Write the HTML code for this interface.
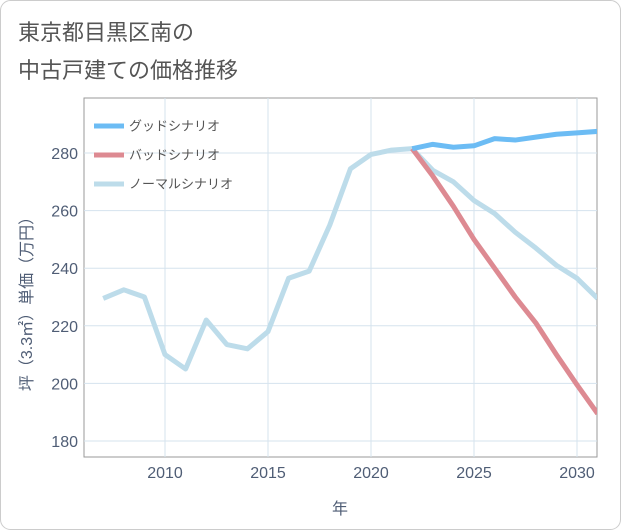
<!DOCTYPE html>
<html><head><meta charset="utf-8"><style>
body{margin:0;background:#fff;}
svg{display:block;font-family:"Liberation Sans","Noto Sans CJK JP",sans-serif;}
</style></head><body>
<svg width="621" height="530">
<rect x="0.5" y="0.5" width="620" height="529" rx="10" fill="#fff" stroke="#ccc"/>
<text x="18" y="40" font-size="22" fill="#555">東京都目黒区南の</text>
<text x="18" y="78" font-size="22" fill="#555">中古戸建ての価格推移</text>
<g id="plot"></g>
</svg>
<script>
const years=[2007,2008,2009,2010,2011,2012,2013,2014,2015,2016,2017,2018,2019,2020,2021,2022,2023,2024,2025,2026,2027,2028,2029,2030,2031];
const normal=[229.5,232.5,230,210,205,222,213.5,212,218,236.5,239,255,274.5,279.5,281,281.5,274,270,263.5,259,252.5,247,241,236.5,229.5];
const goodYears=[2022,2023,2024,2025,2026,2027,2028,2029,2030,2031];
const good=[281.5,283,282,282.5,285,284.5,285.5,286.5,287,287.5];
const badYears=[2022,2023,2024,2025,2026,2027,2028,2029,2030,2031];
const bad=[281.5,272,261.5,250,240,230,221,210,199.5,189.5];
const xTicks=[2010,2015,2020,2025,2030];
const yTicks=[180,200,220,240,260,280];
const L=84,R=597,T=98,B=457;
const xs=y=>165+(y-2010)*20.6;
const ys=v=>441-(v-180)*2.88;
const g=document.getElementById('plot');
const NS='http://www.w3.org/2000/svg';
const TC='#4f5d75';
function mk(t,a){const e=document.createElementNS(NS,t);for(const k in a)e.setAttribute(k,a[k]);g.appendChild(e);return e;}
const bg=mk('rect',{x:L,y:T,width:R-L,height:B-T,fill:'#fff',stroke:'#999'});


xTicks.forEach(t=>{const l=mk('line',{x1:xs(t),x2:xs(t),y1:T,y2:B,stroke:'#d5e3ee'});


const tx=mk('text',{x:xs(t),y:478,'font-size':16,fill:TC,'text-anchor':'middle'});tx.textContent=t;

});
yTicks.forEach(t=>{const l=mk('line',{x1:L,x2:R,y1:ys(t),y2:ys(t),stroke:'#d5e3ee'});


const tx=mk('text',{x:78,y:ys(t)+6,'font-size':16,fill:TC,'text-anchor':'end'});tx.textContent=t;

});
const xt=mk('text',{x:340,y:514,'font-size':16,fill:TC,'text-anchor':'middle'});xt.textContent='年';


const yt=mk('text',{x:0,y:0,'font-size':16,fill:TC,'text-anchor':'middle',transform:'translate(32,300) rotate(-90)'});yt.textContent='坪（3.3㎡）単価（万円）';


const cp=mk('clipPath',{id:'cp'});const cr=document.createElementNS(NS,'rect');cr.setAttribute('x',L);cr.setAttribute('y',T);cr.setAttribute('width',R-L);cr.setAttribute('height',B-T);cp.appendChild(cr);
function line(xv,yv,c,name){const p=mk('polyline',{points:xv.map((x,i)=>xs(x)+','+ys(yv[i])).join(' '),fill:'none',stroke:c,'stroke-width':5,'stroke-linejoin':'round','clip-path':'url(#cp)'});

}
line(years,normal,'#bddcea','normal-scenario-line');
line(badYears,bad,'#dd8a92','bad-scenario-line');
line(goodYears,good,'#6cbcf4','good-scenario-line');
[['グッドシナリオ','#6cbcf4',126],['バッドシナリオ','#dd8a92',155],['ノーマルシナリオ','#bddcea',184]].forEach(([n,c,y])=>{
const l=mk('line',{x1:94,x2:124,y1:y,y2:y,stroke:c,'stroke-width':5});


const t=mk('text',{x:129,y:y+4.5,'font-size':13,fill:'#555'});t.textContent=n;

});
</script>
</body></html>
